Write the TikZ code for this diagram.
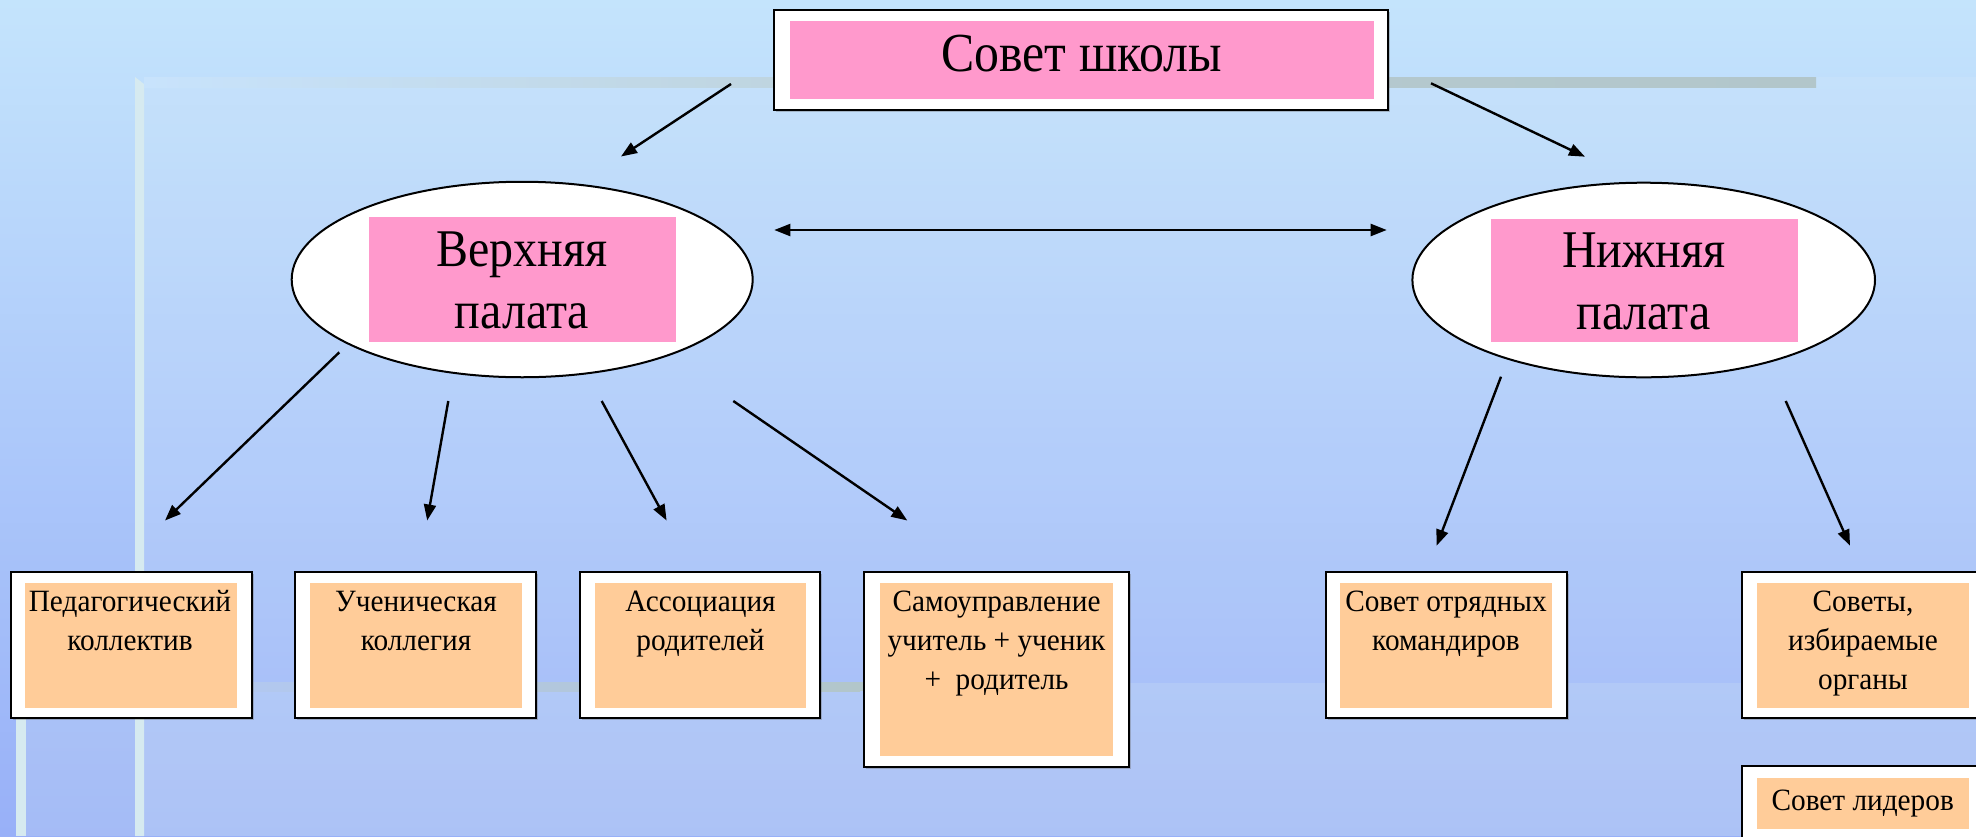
\documentclass[tikz,border=0pt]{standalone}
\usepackage{fontspec}
\setmainfont{Liberation Serif}
\newfontfamily\bigserif{Liberation Serif}[FakeStretch=0.905]
\newfontfamily\smallserif{Liberation Serif}[FakeStretch=0.945]
\usetikzlibrary{arrows.meta,shapes.geometric,shadows}
\definecolor{bgtop}{HTML}{C4E4FC}
\definecolor{bgbot}{HTML}{98B0F8}
\definecolor{pinkfill}{HTML}{FF99CC}
\definecolor{peach}{HTML}{FFCC99}
\definecolor{barcol}{HTML}{D6EAF0}
\definecolor{greybar}{HTML}{B2C6CA}
\definecolor{topbarleft}{HTML}{C8E3FC}
\definecolor{topbarmid}{HTML}{BFD5E0}
\definecolor{lowbarleft}{HTML}{B2C8F6}
\definecolor{paneltint}{HTML}{E4F2FA}
\definecolor{lowtint}{HTML}{D4E6F0}
\tikzset{
  outerbox/.style={rectangle, draw=black, line width=2.5pt, fill=white, inner sep=0pt,
    drop shadow={shadow xshift=2pt, shadow yshift=-2pt, opacity=0.35, fill=black!60}},
  innerbox/.style={rectangle, fill=#1, draw=none, inner sep=0pt},
  oval/.style={ellipse, draw=black, line width=2pt, fill=white, inner sep=0pt},
  smalltext/.style={inner sep=0pt, align=center, font=\smallserif\fontsize{31}{39}\selectfont},
  bigtext/.style={inner sep=0pt, align=center, font=\bigserif\fontsize{53}{61.6}\selectfont},
  toptext/.style={inner sep=0pt, font=\bigserif\fontsize{55}{66}\selectfont},
  arr/.style={line width=2.4pt, -{Triangle[length=16pt,width=12pt]}},
  dblarr/.style={line width=2.2pt, {Triangle[length=16pt,width=12pt]}-{Triangle[length=16pt,width=12pt]}}
}
\begin{document}
\begin{tikzpicture}[x=1pt,y=-1pt]
\useasboundingbox (0,0) rectangle (1976,836);
\clip (0,0) rectangle (1976,836);
% background
\shade[top color=bgtop, bottom color=bgbot] (0,0) rectangle (1976,836);
\fill[paneltint, opacity=0.14] (144,77) rectangle (1976,836);
\fill[lowtint, opacity=0.22] (26,683) rectangle (1976,836);
\fill[barcol] (135,77) -- (144,84) -- (144,836) -- (135,836) -- cycle;
\fill[barcol] (16,683) rectangle (26,836);
\shade[left color=topbarleft, right color=topbarmid] (144,77) rectangle (773,87);
\shade[left color=topbarmid!40!greybar, right color=greybar] (773,77) rectangle (1816,87);
\shade[left color=lowbarleft, right color=greybar] (144,682) rectangle (860,691);
\fill[greybar] (860,682) rectangle (1000,691);

% top box
\node[outerbox, minimum width=614pt, minimum height=100pt] (topo) at (1081,60) {};
\node[innerbox=pinkfill, minimum width=584pt, minimum height=78pt] (topi) at (1082,60) {};
\node[toptext, anchor=base] (topt) at (1081.5,71.7) {Совет школы};

% ellipses
\node[oval, minimum width=461pt, minimum height=195.5pt] (eL) at (522.2,279.5) {};
\node[innerbox=pinkfill, minimum width=307pt, minimum height=124.4pt] (pL) at (522.5,279.5) {};
\node[bigtext, anchor=north] (tL) at (522,223.6) {\strut Верхняя\\\strut палата};

\node[oval, minimum width=462.6pt, minimum height=194.6pt] (eR) at (1643.7,280) {};
\node[innerbox=pinkfill, minimum width=307pt, minimum height=123pt] (pR) at (1644.5,280.5) {};
\node[bigtext, anchor=north] (tR) at (1643.7,224.6) {\strut Нижняя\\\strut палата};

% bottom boxes
\node[outerbox, minimum width=241pt, minimum height=146pt] (b1o) at (131.5,645) {};
\node[innerbox=peach, minimum width=212pt, minimum height=125pt] (b1i) at (131,645.5) {};
\node[smalltext, anchor=north] (b1t) at (130,584.3) {\strut Педагогический\\\strut коллектив};

\node[outerbox, minimum width=241pt, minimum height=146pt] (b2o) at (415.5,645) {};
\node[innerbox=peach, minimum width=212pt, minimum height=125pt] (b2i) at (416,645.5) {};
\node[smalltext, anchor=north] (b2t) at (416,584.3) {\strut Ученическая\\\strut коллегия};

\node[outerbox, minimum width=240pt, minimum height=146pt] (b3o) at (700,645) {};
\node[innerbox=peach, minimum width=211pt, minimum height=125pt] (b3i) at (700.5,645.5) {};
\node[smalltext, anchor=north] (b3t) at (700.5,584.3) {\strut Ассоциация\\\strut родителей};

\node[outerbox, minimum width=265pt, minimum height=195pt] (b4o) at (996.5,669.5) {};
\node[innerbox=peach, minimum width=233pt, minimum height=173pt] (b4i) at (996.5,669.5) {};
\node[smalltext, anchor=north] (b4t) at (996.5,584.3) {\strut Самоуправление\\\strut учитель + ученик\\\strut +\ \ родитель};

\node[outerbox, minimum width=241pt, minimum height=146pt] (b5o) at (1446.5,645) {};
\node[innerbox=peach, minimum width=212pt, minimum height=125pt] (b5i) at (1446,645.5) {};
\node[smalltext, anchor=north] (b5t) at (1446,584.3) {\strut Совет отрядных\\\strut командиров};

\node[outerbox, minimum width=241pt, minimum height=146pt] (b6o) at (1862.5,645) {};
\node[innerbox=peach, minimum width=212pt, minimum height=125pt] (b6i) at (1863,645.5) {};
\node[smalltext, anchor=north] (b6t) at (1863,584.3) {\strut Советы,\\\strut избираемые\\\strut органы};

\node[outerbox, minimum width=241pt, minimum height=80pt] (b7o) at (1862.5,806) {};
\node[innerbox=peach, minimum width=212pt, minimum height=51pt] (b7i) at (1863,803.5) {};
\node[smalltext, anchor=base] (b7t) at (1862.7,810) {Совет лидеров};

% arrow end points
\coordinate (a1s) at (731,84);      \coordinate (a1e) at (621,156.5);
\coordinate (a2s) at (1431,83.3);   \coordinate (a2e) at (1585,156.7);
\coordinate (dl) at (774.3,230);    \coordinate (dr) at (1386.7,230);
\coordinate (l1s) at (339.3,352.3); \coordinate (l1e) at (165,520.5);
\coordinate (l2s) at (448.3,401);   \coordinate (l2e) at (427.2,520.5);
\coordinate (l3s) at (601.7,401);   \coordinate (l3e) at (666.6,520.5);
\coordinate (l4s) at (733.3,401);   \coordinate (l4e) at (907.3,520.5);
\coordinate (r1s) at (1501,376.7);  \coordinate (r1e) at (1436.6,545.7);
\coordinate (r2s) at (1785.7,401);  \coordinate (r2e) at (1850,545.7);

\draw[arr] (a1s) -- (a1e);
\draw[arr] (a2s) -- (a2e);
\draw[dblarr] (dl) -- (dr);
\draw[arr] (l1s) -- (l1e);
\draw[arr] (l2s) -- (l2e);
\draw[arr] (l3s) -- (l3e);
\draw[arr] (l4s) -- (l4e);
\draw[arr] (r1s) -- (r1e);
\draw[arr] (r2s) -- (r2e);
\end{tikzpicture}
\end{document}
